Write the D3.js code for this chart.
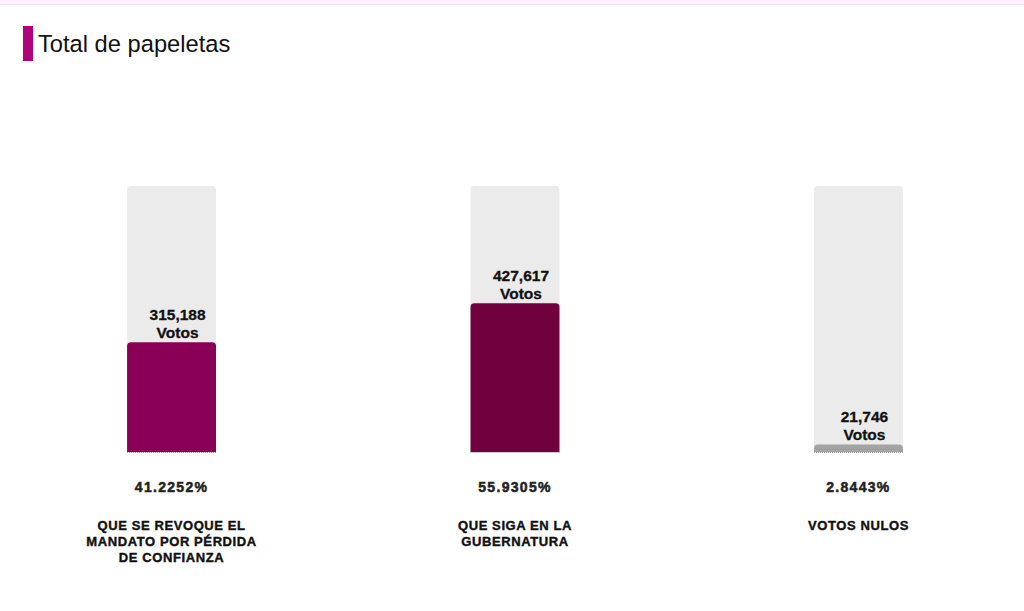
<!DOCTYPE html>
<html>
<head>
<meta charset="utf-8">
<script src="https://cdn.jsdelivr.net/npm/d3@7"></script>
<style>
  body { margin: 0; background: #fff; font-family: "Liberation Sans", Arial, sans-serif; }
</style>
</head>
<body>
<div id="chart"></div>
<script>
// chart data
const categories = ["QUE SE REVOQUE EL MANDATO POR PÉRDIDA DE CONFIANZA", "QUE SIGA EN LA GUBERNATURA", "VOTOS NULOS"];
const labelLines = [["QUE SE REVOQUE EL", "MANDATO POR PÉRDIDA", "DE CONFIANZA"], ["QUE SIGA EN LA", "GUBERNATURA"], ["VOTOS NULOS"]];
const votes = [315188, 427617, 21746];
const percents = [41.2252, 55.9305, 2.8443];
const barColors = ["#8b0057", "#71003f", "#a3a3a3"];

const width = 1024, height = 611;

const svg = d3.select("#chart")
    .append("svg")
    .attr("width", width)
    .attr("height", height);

// top band
svg.append("rect").attr("x", 0).attr("y", 0).attr("width", width).attr("height", 4).attr("fill", "#fcf1fc");
svg.append("rect").attr("x", 0).attr("y", 4).attr("width", width).attr("height", 1).attr("fill", "#f3dff3");

// title with accent bar
svg.append("rect")
    .attr("x", 23).attr("y", 26)
    .attr("width", 10).attr("height", 35)
    .attr("fill", "#b0047f");

svg.append("text")
    .attr("x", 38).attr("y", 52)
    .style("font-size", "23.7px")
    .style("fill", "#111")
    .text("Total de papeletas");

// scales
const x_scale = d3.scaleBand()
    .domain(categories)
    .range([0, 1030])
    .paddingInner(0.741)
    .paddingOuter(0.37);

const y_scale = d3.scaleLinear()
    .domain([0, 100])
    .range([452, 186]);

const bw = x_scale.bandwidth();

// path for a rect with rounded top corners
function topRounded(x, y, w, h, r) {
    r = Math.min(r, h, w / 2);
    return `M${x},${y + h}V${y + r}Q${x},${y} ${x + r},${y}H${x + w - r}Q${x + w},${y} ${x + w},${y + r}V${y + h}Z`;
}

const groups = svg.selectAll("g.bar")
    .data(categories)
    .enter().append("g")
    .attr("class", "bar");

// background track
groups.append("path")
    .attr("d", d => topRounded(x_scale(d), y_scale(100), bw, y_scale(0) - y_scale(100), 4))
    .attr("fill", "#ebebeb");

// value bar
groups.append("path")
    .attr("d", (d, i) => topRounded(x_scale(d), y_scale(percents[i]), bw, y_scale(0) - y_scale(percents[i]), 4))
    .attr("fill", (d, i) => barColors[i]);

// dotted baseline
groups.append("line")
    .attr("x1", d => x_scale(d))
    .attr("x2", d => x_scale(d) + bw)
    .attr("y1", y_scale(0) + 0.5)
    .attr("y2", y_scale(0) + 0.5)
    .attr("stroke", "#9a9a9a")
    .attr("stroke-width", 1)
    .attr("stroke-dasharray", "1,1");

// vote labels
const valueLabel = groups.append("text")
    .attr("text-anchor", "middle")
    .style("font-size", "15.5px")
    .style("font-weight", "bold")
    .style("fill", "#111")
    .style("stroke", "#111")
    .style("stroke-width", "0.3px");

valueLabel.append("tspan")
    .attr("x", d => x_scale(d) + bw / 2 + 6)
    .attr("y", (d, i) => y_scale(percents[i]) - 22)
    .text((d, i) => d3.format(",")(votes[i]));

valueLabel.append("tspan")
    .attr("x", d => x_scale(d) + bw / 2 + 6)
    .attr("y", (d, i) => y_scale(percents[i]) - 4)
    .text("Votos");

// percentage
groups.append("text")
    .attr("x", d => x_scale(d) + bw / 2)
    .attr("y", 492)
    .attr("text-anchor", "middle")
    .style("font-size", "14px")
    .style("font-weight", "bold")
    .style("letter-spacing", "1.3px")
    .style("fill", "#222")
    .style("stroke", "#222")
    .style("stroke-width", "0.5px");
    
groups.select("text:last-child")
    .text((d, i) => percents[i].toFixed(4) + "%");

// category labels
const catLabel = groups.append("text")
    .attr("text-anchor", "middle")
    .style("font-size", "13px")
    .style("font-weight", "bold")
    .style("letter-spacing", "0.6px")
    .style("fill", "#111")
    .style("stroke", "#111")
    .style("stroke-width", "0.4px");

catLabel.selectAll("tspan")
    .data((d, i) => labelLines[i].map(l => ({ line: l, cat: d })))
    .enter().append("tspan")
    .attr("x", d => x_scale(d.cat) + bw / 2)
    .attr("y", (d, j) => 530 + j * 16)
    .text(d => d.line);
</script>
</body>
</html>
